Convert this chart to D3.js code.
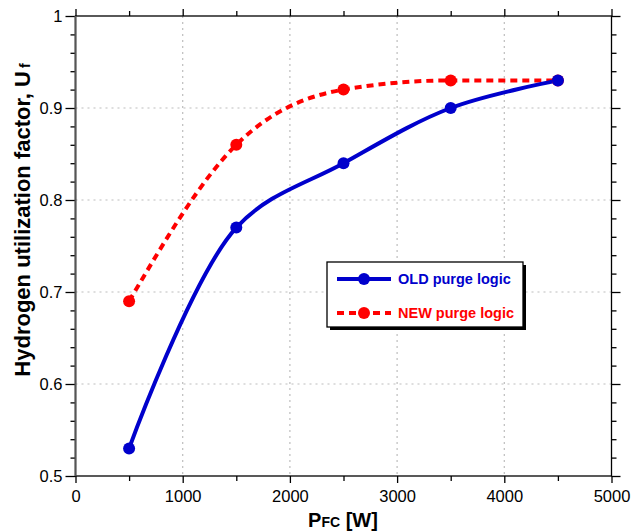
<!DOCTYPE html>
<html>
<head>
<meta charset="utf-8">
<script src="https://cdn.jsdelivr.net/npm/d3@7"></script>
<style>
  html, body { margin: 0; padding: 0; background: #fff; }
  svg { display: block; font-family: "Liberation Sans", Arial, sans-serif; }
</style>
</head>
<body>
<svg id="chart" width="631" height="532"></svg>
<script>
// ---- data ----
const powerW = [500, 1500, 2500, 3500, 4500];
const oldPurge = [0.53, 0.77, 0.84, 0.90, 0.93];
const newPurge = [0.69, 0.86, 0.92, 0.93, 0.93];
const seriesNames = ["OLD purge logic", "NEW purge logic"];
const xTickValues = [0, 1000, 2000, 3000, 4000, 5000];
const yTickValues = [0.5, 0.6, 0.7, 0.8, 0.9, 1];
const yTickLabels = ["0.5", "0.6", "0.7", "0.8", "0.9", "1"];

// ---- layout ----
const svg = d3.select("#chart");
const L = 75.5, R = 611.5, T = 16, B = 476;
const x = d3.scaleLinear().domain([0, 5000]).range([L, R]);
const y = d3.scaleLinear().domain([0.5, 1]).range([B, T]);

const blue = "#0000cc", red = "#ff0000";

// grid
const grid = svg.append("g");
grid.selectAll(".gx").data(xTickValues.slice(1, -1)).enter().append("line")
  .attr("x1", d => x(d)).attr("x2", d => x(d)).attr("y1", T).attr("y2", B)
  .attr("stroke", "#bdbdbd").attr("stroke-width", 1.2).attr("stroke-dasharray", "2,4");
grid.selectAll(".gy").data(yTickValues.slice(1, -1)).enter().append("line")
  .attr("y1", d => y(d)).attr("y2", d => y(d)).attr("x1", L).attr("x2", R)
  .attr("stroke", "#bdbdbd").attr("stroke-width", 1.2).attr("stroke-dasharray", "2,4");

// axes
const xMinor = d3.range(500, 5000, 1000);
const yMinor = d3.range(0, 25).map(i => 0.5 + i * 0.02).filter(v => Math.abs((v * 10) - Math.round(v * 10)) > 1e-6);

function styleAxis(g) {
  g.select(".domain").remove();
  g.selectAll(".tick line").attr("stroke", "#000").attr("stroke-width", 1.3);
  g.selectAll(".tick text").attr("font-size", "16.5px").attr("fill", "#000")
    .attr("font-family", "Liberation Sans, Arial, sans-serif");
}

// bottom
svg.append("g").attr("transform", `translate(0,${B})`)
  .call(d3.axisBottom(x).tickValues(xTickValues).tickSize(7).tickPadding(7).tickFormat(d3.format("d")))
  .call(styleAxis);
svg.append("g").attr("transform", `translate(0,${B})`)
  .call(d3.axisBottom(x).tickValues(xMinor).tickSize(5).tickFormat(""))
  .call(styleAxis);
// top
svg.append("g").attr("transform", `translate(0,${T})`)
  .call(d3.axisTop(x).tickValues(xTickValues).tickSize(7).tickFormat(""))
  .call(styleAxis);
svg.append("g").attr("transform", `translate(0,${T})`)
  .call(d3.axisTop(x).tickValues(xMinor).tickSize(5).tickFormat(""))
  .call(styleAxis);
// left
svg.append("g").attr("transform", `translate(${L},0)`)
  .call(d3.axisLeft(y).tickValues(yTickValues).tickSize(10).tickPadding(3)
    .tickFormat((d, i) => yTickLabels[i]))
  .call(styleAxis);
svg.append("g").attr("transform", `translate(${L},0)`)
  .call(d3.axisLeft(y).tickValues(yMinor).tickSize(5).tickFormat(""))
  .call(styleAxis);
// right
svg.append("g").attr("transform", `translate(${R},0)`)
  .call(d3.axisRight(y).tickValues(yTickValues).tickSize(9).tickFormat(""))
  .call(styleAxis);
svg.append("g").attr("transform", `translate(${R},0)`)
  .call(d3.axisRight(y).tickValues(yMinor).tickSize(5).tickFormat(""))
  .call(styleAxis);

// frame
svg.append("rect").attr("x", L).attr("y", T).attr("width", R - L).attr("height", B - T)
  .attr("fill", "none").attr("stroke", "#000").attr("stroke-width", 1.3);
svg.append("line").attr("x1", L).attr("x2", L).attr("y1", T).attr("y2", B)
  .attr("stroke", "#555").attr("stroke-width", 2);

// series
const lineOld = d3.line().x(d => x(d[0])).y(d => y(d[1])).curve(d3.curveCatmullRom.alpha(0.5));
const lineNew = d3.line().x(d => x(d[0])).y(d => y(d[1])).curve(d3.curveMonotoneX);
const oldPts = powerW.map((p, i) => [p, oldPurge[i]]);
const newPts = powerW.map((p, i) => [p, newPurge[i]]);

svg.append("path").datum(newPts).attr("d", lineNew).attr("fill", "none")
  .attr("stroke", red).attr("stroke-width", 4).attr("stroke-dasharray", "7,5");
svg.append("path").datum(oldPts).attr("d", lineOld).attr("fill", "none")
  .attr("stroke", blue).attr("stroke-width", 4);

svg.selectAll(".pn").data(newPts).enter().append("circle")
  .attr("cx", d => x(d[0])).attr("cy", d => y(d[1])).attr("r", 6).attr("fill", red);
svg.selectAll(".po").data(oldPts).enter().append("circle")
  .attr("cx", d => x(d[0])).attr("cy", d => y(d[1])).attr("r", 6).attr("fill", blue);

// legend
const lg = svg.append("g");
lg.append("rect").attr("x", 330).attr("y", 265).attr("width", 196).attr("height", 65).attr("fill", "#000");
lg.append("rect").attr("x", 327).attr("y", 262).attr("width", 196).attr("height", 65)
  .attr("fill", "#fff").attr("stroke", "#000").attr("stroke-width", 1.3);
const legendItems = [
  { name: seriesNames[0], color: blue, dash: null, cy: 279 },
  { name: seriesNames[1], color: red, dash: "7,5", cy: 313 }
];
legendItems.forEach(it => {
  lg.append("line").attr("x1", 337).attr("x2", 391).attr("y1", it.cy).attr("y2", it.cy)
    .attr("stroke", it.color).attr("stroke-width", 4).attr("stroke-dasharray", it.dash);
  lg.append("circle").attr("cx", 364).attr("cy", it.cy).attr("r", 6).attr("fill", it.color);
  lg.append("text").attr("x", 398).attr("y", it.cy).attr("dy", "0.36em")
    .attr("font-size", "14.5px").attr("font-weight", "bold").attr("fill", it.color).text(it.name);
});

// axis titles
const xt = svg.append("text").attr("x", 343).attr("y", 527).attr("text-anchor", "middle")
  .attr("font-size", "20px").attr("font-weight", "bold").attr("fill", "#000");
xt.append("tspan").text("P");
xt.append("tspan").attr("font-size", "14px").text("FC");
xt.append("tspan").text(" [W]");

const yt = svg.append("text").attr("transform", "translate(30,220) rotate(-90)")
  .attr("text-anchor", "middle").attr("font-size", "22px").attr("font-weight", "bold").attr("fill", "#000");
yt.append("tspan").text("Hydrogen utilization factor, U");
yt.append("tspan").attr("font-size", "14px").attr("dx", "3").text("f");
</script>
</body>
</html>
